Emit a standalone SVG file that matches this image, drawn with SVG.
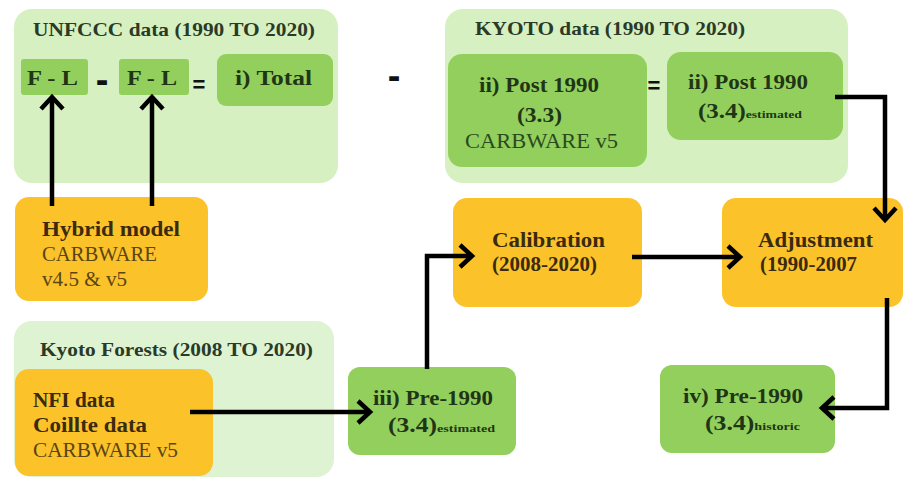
<svg xmlns="http://www.w3.org/2000/svg" width="913" height="480" viewBox="0 0 913 480">
<style>
  .panel { fill: #d6f0c2; }
  .panel2 { fill: #ddf3d2; }
  .gbox { fill: #92cf5c; }
  .obox { fill: #fbc22a; }
  text { font-family: "Liberation Serif", "Times New Roman", serif; }
  .title { font-size: 19px; font-weight: bold; fill: #2b3a26; }
  .gb { font-size: 20px; font-weight: bold; fill: #1f3516; }
  .gn { font-size: 20px; fill: #2a4a1e; }
  .ob { font-size: 20px; font-weight: bold; fill: #3a2a0e; }
  .on { font-size: 20px; fill: #5a4515; }
  .sub { font-size: 11px; }
  .op { font-family: "Liberation Sans", Arial, sans-serif; font-weight: 900; fill: #111; }
  .conn { fill: none; stroke: #000; stroke-width: 4.5; }
</style>
<defs>
  <marker id="arr" viewBox="-16 -13 20 26" refX="0" refY="0" markerWidth="20" markerHeight="26" markerUnits="userSpaceOnUse" orient="auto" overflow="visible">
    <path d="M-12,-11 L0,0 L-12,11" fill="none" stroke="#000" stroke-width="4.5"/>
  </marker>
</defs>

<g id="panel-unfccc">
  <rect class="panel" x="14" y="9" width="324" height="174" rx="18"/>
  <text class="title" x="33" y="36" textLength="282" lengthAdjust="spacingAndGlyphs">UNFCCC data (1990 TO 2020)</text>
</g>
<g id="panel-kyoto">
  <rect class="panel" x="445" y="9" width="403" height="174" rx="18"/>
  <text class="title" x="475" y="35" textLength="270" lengthAdjust="spacingAndGlyphs">KYOTO data (1990 TO 2020)</text>
</g>
<g id="panel-kyoto-forests">
  <rect class="panel2" x="14" y="321" width="320" height="156" rx="18"/>
  <text class="title" x="40" y="356" textLength="273" lengthAdjust="spacingAndGlyphs">Kyoto Forests (2008 TO 2020)</text>
</g>

<g id="fl1">
  <rect class="gbox" x="21" y="59" width="67" height="36" rx="3"/>
  <text class="gb" x="27" y="85" font-size="22" textLength="51" lengthAdjust="spacingAndGlyphs">F - L</text>
</g>
<g id="fl2">
  <rect class="gbox" x="119" y="59" width="70" height="36" rx="3"/>
  <text class="gb" x="127" y="85" font-size="22" textLength="50" lengthAdjust="spacingAndGlyphs">F - L</text>
</g>
<g id="total">
  <rect class="gbox" x="217" y="54" width="116" height="52" rx="9"/>
  <text class="gb" x="235" y="85" font-size="22" textLength="77" lengthAdjust="spacingAndGlyphs">i) Total</text>
</g>

<g id="operators">
  <text class="op" x="102" y="93" text-anchor="middle" font-size="38">-</text>
  <text class="op" x="199" y="92" text-anchor="middle" font-size="22">=</text>
  <text class="op" x="394" y="89" text-anchor="middle" font-size="38">-</text>
  <text class="op" x="654" y="93" text-anchor="middle" font-size="22">=</text>
</g>

<g id="post1990-33">
  <rect class="gbox" x="448" y="54" width="199" height="113" rx="14"/>
  <text class="gb" x="479" y="92" textLength="120" lengthAdjust="spacingAndGlyphs">ii) Post 1990</text>
  <text class="gb" x="517" y="122" textLength="45" lengthAdjust="spacingAndGlyphs">(3.3)</text>
  <text class="gn" x="465" y="148" textLength="153" lengthAdjust="spacingAndGlyphs">CARBWARE v5</text>
</g>
<g id="post1990-34">
  <rect class="gbox" x="667" y="52" width="176" height="88" rx="14"/>
  <text class="gb" x="688" y="89" textLength="120" lengthAdjust="spacingAndGlyphs">ii) Post 1990</text>
  <text class="gb" x="698" y="118" textLength="104" lengthAdjust="spacingAndGlyphs">(3.4)<tspan class="sub">estimated</tspan></text>
</g>

<g id="hybrid">
  <rect class="obox" x="15" y="197" width="193" height="104" rx="14"/>
  <text class="ob" x="42" y="236" textLength="138" lengthAdjust="spacingAndGlyphs">Hybrid model</text>
  <text class="on" x="42" y="261" textLength="115" lengthAdjust="spacingAndGlyphs">CARBWARE</text>
  <text class="on" x="42" y="286" textLength="85" lengthAdjust="spacingAndGlyphs">v4.5 &amp; v5</text>
</g>

<g id="calibration">
  <rect class="obox" x="453" y="198" width="189" height="109" rx="14"/>
  <text class="ob" x="492" y="247" textLength="113" lengthAdjust="spacingAndGlyphs">Calibration</text>
  <text class="ob" x="492" y="271" textLength="105" lengthAdjust="spacingAndGlyphs">(2008-2020)</text>
</g>
<g id="adjustment">
  <rect class="obox" x="722" y="198" width="181" height="109" rx="14"/>
  <text class="ob" x="758" y="247" textLength="115" lengthAdjust="spacingAndGlyphs">Adjustment</text>
  <text class="ob" x="760" y="271" textLength="97" lengthAdjust="spacingAndGlyphs">(1990-2007</text>
</g>

<g id="nfi">
  <rect class="obox" x="15" y="369" width="198" height="107" rx="14"/>
  <text class="ob" x="33" y="407" textLength="82" lengthAdjust="spacingAndGlyphs">NFI data</text>
  <text class="ob" x="33" y="432" textLength="114" lengthAdjust="spacingAndGlyphs">Coillte data</text>
  <text class="on" x="33" y="457" textLength="145" lengthAdjust="spacingAndGlyphs">CARBWARE v5</text>
</g>

<g id="pre1990-est">
  <rect class="gbox" x="348" y="367" width="168" height="88" rx="12"/>
  <text class="gb" x="373" y="405" textLength="120" lengthAdjust="spacingAndGlyphs">iii) Pre-1990</text>
  <text class="gb" x="388" y="432" textLength="107" lengthAdjust="spacingAndGlyphs">(3.4)<tspan class="sub">estimated</tspan></text>
</g>
<g id="pre1990-hist">
  <rect class="gbox" x="660" y="365" width="175" height="88" rx="12"/>
  <text class="gb" x="683" y="403" textLength="120" lengthAdjust="spacingAndGlyphs">iv) Pre-1990</text>
  <text class="gb" x="705" y="430" textLength="95" lengthAdjust="spacingAndGlyphs">(3.4)<tspan class="sub">historic</tspan></text>
</g>

<g id="connectors">
  <path class="conn" d="M52,206 L52,97" marker-end="url(#arr)"/>
  <path class="conn" d="M152,206 L152,97" marker-end="url(#arr)"/>
  <path class="conn" d="M835,97 L885,97 L885,220" marker-end="url(#arr)"/>
  <path class="conn" d="M632,257 L740,257" marker-end="url(#arr)"/>
  <path class="conn" d="M887,298 L887,408 L822,408" marker-end="url(#arr)"/>
  <path class="conn" d="M190,412 L370,412" marker-end="url(#arr)"/>
  <path class="conn" d="M427,369 L427,256 L472,256" marker-end="url(#arr)"/>
</g>
</svg>
